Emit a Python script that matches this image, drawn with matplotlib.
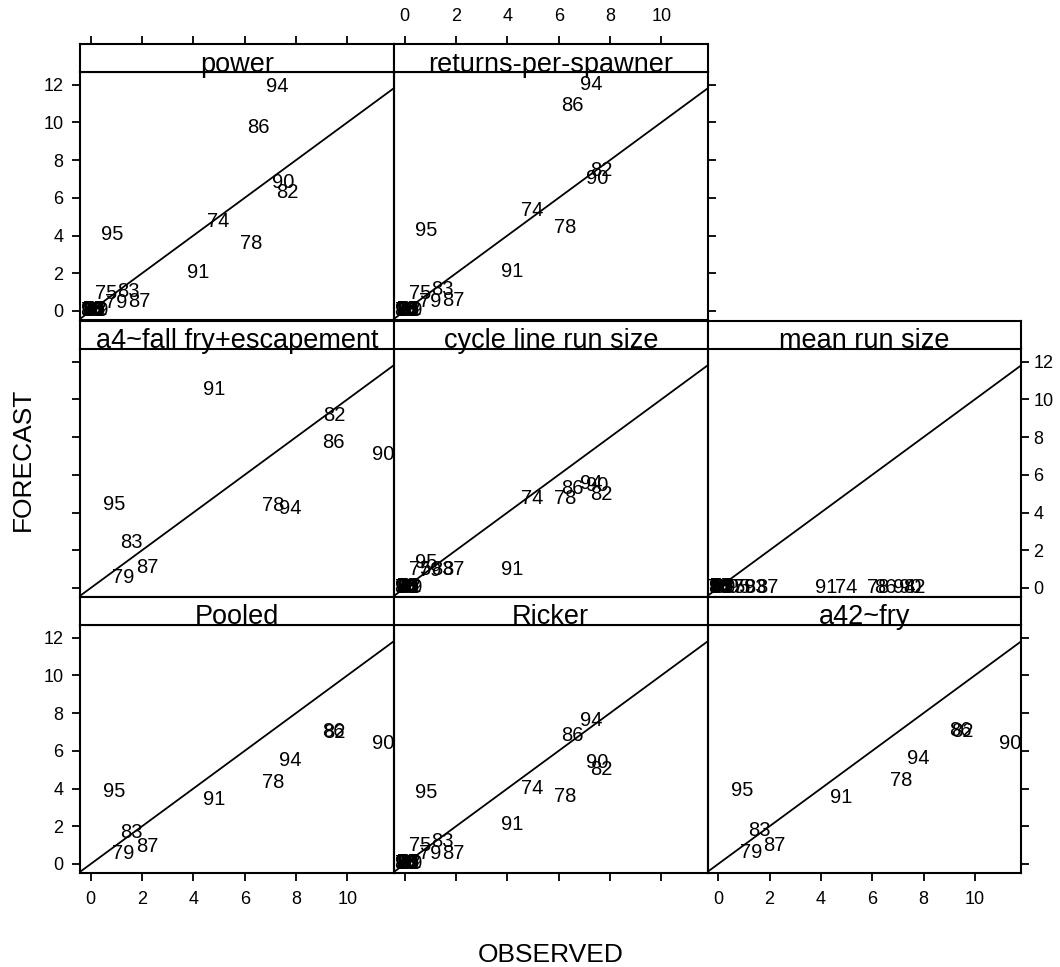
import matplotlib.pyplot as plt

plt.rcParams['font.family'] = ['Liberation Sans', 'DejaVu Sans']

# main cycle-line years, observed run (same for five of the models)
years_main = [74, 75, 78, 79, 82, 83, 86, 87, 90, 91, 94, 95]
obs_main = [4.97, 0.60, 6.25, 1.00, 7.65, 1.45, 6.52, 1.90, 7.50, 4.20, 7.25, 0.83]

# off-cycle years, piled up near zero
years_small = [76, 77, 80, 81, 84, 85, 88, 89, 92, 93]
obs_small = [0.05, 0.12, 0.08, 0.20, 0.10, 0.15, 0.03, 0.25, 0.18, 0.06]
fc_small = [0.02, 0.06, 0.00, 0.08, 0.04, 0.10, 0.01, 0.05, 0.07, 0.03]

# years / observed used by the a4, pooled and a42 models
years_sub = [78, 79, 82, 83, 86, 87, 90, 91, 94, 95]
obs_sub = [7.12, 1.27, 9.50, 1.60, 9.45, 2.20, 11.38, 4.80, 7.78, 0.93]

# forecasts, same order as years_main
fc_power = [4.73, 0.90, 3.56, 0.43, 6.28, 1.01, 9.73, 0.48, 6.80, 2.02, 11.90, 4.04]
fc_rps = [5.32, 0.95, 4.42, 0.48, 7.45, 1.16, 10.90, 0.58, 7.05, 2.08, 12.00, 4.26]
fc_cycle = [4.73, 0.96, 4.73, 0.92, 4.95, 0.96, 5.30, 0.96, 5.45, 0.96, 5.55, 1.33]
fc_mean = [0.05, 0.05, 0.05, 0.05, 0.05, 0.05, 0.05, 0.05, 0.05, 0.05, 0.05, 0.05]
fc_ricker = [4.00, 1.00, 3.56, 0.53, 5.00, 1.17, 6.80, 0.58, 5.40, 2.07, 7.60, 3.80]

# forecasts, same order as years_sub
fc_a4 = [4.36, 0.55, 9.15, 2.40, 7.70, 1.06, 7.10, 10.50, 4.20, 4.40]
fc_pooled = [4.34, 0.58, 6.95, 1.69, 7.05, 0.95, 6.40, 3.44, 5.50, 3.86]
fc_a42 = [4.40, 0.63, 7.00, 1.75, 7.10, 1.00, 6.40, 3.50, 5.60, 3.90]

x_ticks = [0, 2, 4, 6, 8, 10]
y_ticks = [0, 2, 4, 6, 8, 10, 12]

panels = [
    ("power", 0, 0, years_main + years_small, obs_main + obs_small, fc_power + fc_small),
    ("returns-per-spawner", 0, 1, years_main + years_small, obs_main + obs_small, fc_rps + fc_small),
    ("a4~fall fry+escapement", 1, 0, years_sub, obs_sub, fc_a4),
    ("cycle line run size", 1, 1, years_main + years_small, obs_main + obs_small, fc_cycle + fc_small),
    ("mean run size", 1, 2, years_main + years_small, obs_main + obs_small, fc_mean + fc_small),
    ("Pooled", 2, 0, years_sub, obs_sub, fc_pooled),
    ("Ricker", 2, 1, years_main + years_small, obs_main + obs_small, fc_ricker + fc_small),
    ("a42~fry", 2, 2, years_sub, obs_sub, fc_a42),
]

W, H = 1060, 967
col_x = [80, 394, 707.5]
row_top = [43.5, 320.5, 596.5]
pw, sh, ph = 313.5, 28, 248.5


def rect(x, y, w, h):
    return [x / W, 1 - (y + h) / H, w / W, h / H]


fig = plt.figure(figsize=(W / 100, H / 100), dpi=100)

for name, r, c, years, obs, fc in panels:
    ax = fig.add_axes(rect(col_x[c], row_top[r] + sh, pw, ph))
    ax.set_facecolor('none')
    ax.set_xlim(-0.42, 11.8)
    ax.set_ylim(-0.48, 12.7)
    ax.set_xticks(x_ticks)
    ax.set_yticks(y_ticks)
    for s in ax.spines.values():
        s.set_linewidth(1.5)

    ax.axline((0, 0), slope=1, color='black', lw=1.3)
    for yr, xo, yf in zip(years, obs, fc):
        ax.text(xo, yf, str(yr), ha='center', va='center', fontsize=14.5, clip_on=False)

    # lattice-style alternating axes
    left = c == 0
    right = (r == 0 and c == 1) or c == 2
    bottom = r == 2
    ax.tick_params(direction='out', length=6, width=1.3, labelsize=13,
                   left=left, labelleft=left and r != 1,
                   right=right, labelright=(r == 1 and c == 2),
                   bottom=bottom, labelbottom=bottom and c != 1,
                   top=False, labeltop=False)
    ax.tick_params(axis='y', pad=6)
    ax.tick_params(axis='x', pad=7)
    if r == 1 and c == 2:
        ax.tick_params(axis='y', pad=3)

    sax = fig.add_axes(rect(col_x[c], row_top[r], pw, sh))
    sax.set_facecolor('white')
    sax.set_xlim(-0.42, 11.8)
    sax.set_ylim(0, 1)
    sax.set_yticks([])
    sax.set_xticks(x_ticks)
    for s in sax.spines.values():
        s.set_linewidth(1.5)
    sax.tick_params(direction='out', length=6, width=1.3, labelsize=13, pad=7,
                    bottom=False, labelbottom=False,
                    top=(r == 0), labeltop=(r == 0 and c == 1))
    sax.text(0.5, 0.0, name, transform=sax.transAxes, ha='center', va='baseline',
             fontsize=19.5, clip_on=False)

fig.text(23 / W, 1 - 459 / H, "FORECAST", rotation=90, ha='center', va='center', fontsize=19)
fig.text(551 / W, 1 - 955 / H, "OBSERVED", ha='center', va='center', fontsize=19)

fig.savefig("out.png", dpi=100)
